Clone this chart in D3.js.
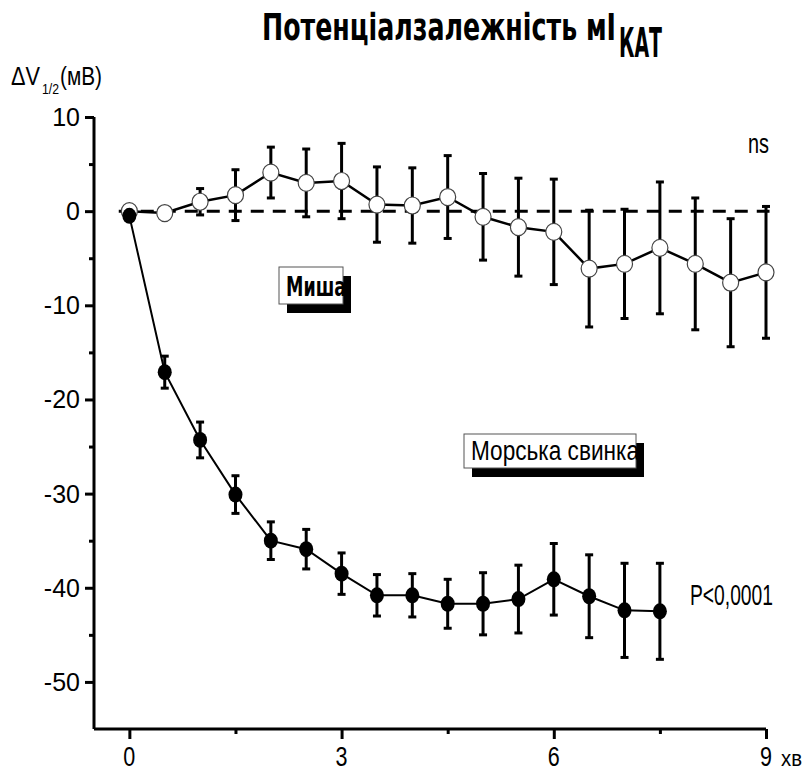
<!DOCTYPE html>
<html>
<head>
<meta charset="utf-8">
<script src="https://cdn.jsdelivr.net/npm/d3@7"></script>
<style>
  body { margin: 0; background: #fff; }
  text { font-family: "Liberation Sans", Arial, sans-serif; fill: #000; }
  text.heavy { font-family: "DejaVu Sans", sans-serif; font-weight: bold; }
</style>
</head>
<body>
<div class="canvas"></div>
<script>
// data (time in minutes, ΔV1/2 in mV, error = SEM)
const mouseTime = [0, 0.5, 1, 1.5, 2, 2.5, 3, 3.5, 4, 4.5, 5, 5.5, 6, 6.5, 7, 7.5, 8, 8.5, 9];
const mouseMean = [0, -0.2, 1.0, 1.7, 4.1, 3.0, 3.2, 0.7, 0.6, 1.5, -0.6, -1.7, -2.2, -6.1, -5.6, -3.9, -5.6, -7.6, -6.5];
const mouseErr = [0.2, 0.3, 1.4, 2.7, 2.7, 3.6, 4.0, 4.0, 4.0, 4.4, 4.6, 5.2, 5.6, 6.2, 5.8, 7.0, 7.0, 6.8, 7.0];

const pigTime = [0, 0.5, 1, 1.5, 2, 2.5, 3, 3.5, 4, 4.5, 5, 5.5, 6, 6.5, 7, 7.5];
const pigMean = [-0.5, -17.1, -24.3, -30.1, -35.0, -35.9, -38.5, -40.8, -40.8, -41.7, -41.7, -41.2, -39.1, -40.9, -42.4, -42.5];
const pigErr = [0.4, 1.7, 1.9, 2.0, 2.0, 2.1, 2.2, 2.2, 2.3, 2.6, 3.3, 3.6, 3.8, 4.4, 5.0, 5.1];

const xTicks = [0, 3, 6, 9];
const xMinorTicks = [1.5, 4.5, 7.5];
const yTicks = [10, 0, -10, -20, -30, -40, -50];
const yMinorTicks = [5, -5, -15, -25, -35, -45];

const width = 806;
const height = 771;
const margin = { top: 117, right: 40, bottom: 42, left: 94 };

const svg = d3
  .select(".canvas")
  .append("svg")
  .attr("width", width)
  .attr("height", height);

// scales
const x = d3.scaleLinear().domain([-0.5, 9]).range([margin.left, width - margin.right]);
const y = d3.scaleLinear().domain([-55, 10]).range([height - margin.bottom, margin.top]);

// squeeze text to a given width, the original fonts are very narrow
const squeeze = (sel, w) => sel.attr("textLength", w).attr("lengthAdjust", "spacingAndGlyphs");

// axes
const xAxisGroup = svg.append("g").attr("transform", `translate(0, ${y(-55)})`);
xAxisGroup.call(d3.axisBottom(x).tickValues(xTicks).tickSize(10).tickFormat(""));
const xMinor = svg.append("g").attr("transform", `translate(0, ${y(-55)})`);
xMinor.call(d3.axisBottom(x).tickValues(xMinorTicks).tickSize(5).tickFormat(""));

const yAxisGroup = svg.append("g").attr("transform", `translate(${x(-0.5)}, 0)`);
yAxisGroup.call(d3.axisLeft(y).tickValues(yTicks).tickSize(9).tickFormat(""));
const yMinor = svg.append("g").attr("transform", `translate(${x(-0.5)}, 0)`);
yMinor.call(d3.axisLeft(y).tickValues(yMinorTicks).tickSize(5).tickFormat(""));

svg.selectAll(".domain").attr("stroke", "#000").attr("stroke-width", 3);
svg.selectAll(".tick line").attr("stroke", "#000").attr("stroke-width", 3);
xMinor.select(".domain").remove();
yMinor.select(".domain").remove();
// the axes meet in the corner without end ticks
xAxisGroup.select(".domain").attr("d", `M${x(-0.5)},0H${x(9)}`);
yAxisGroup.select(".domain").attr("d", `M0,${y(10)}V${y(-55)}`);

// tick labels
svg.selectAll(".ylab")
  .data(yTicks)
  .enter()
  .append("text")
  .attr("x", x(-0.5) - 14)
  .attr("y", d => y(d) + 9)
  .attr("text-anchor", "end")
  .attr("font-size", 25)
  .text(d => d);

svg.selectAll(".xlab")
  .data(xTicks)
  .enter()
  .append("text")
  .attr("x", d => x(d))
  .attr("y", 766)
  .attr("text-anchor", "middle")
  .attr("font-size", 27)
  .each(function() { squeeze(d3.select(this), 12); })
  .text(d => d);

squeeze(svg.append("text").attr("x", 781).attr("y", 766).attr("font-size", 22).text("хв"), 21);

// y axis label
squeeze(svg.append("text").attr("x", 11).attr("y", 85).attr("font-size", 25).text("ΔV"), 29);
squeeze(svg.append("text").attr("x", 42).attr("y", 94).attr("font-size", 15).text("1/2"), 17);
squeeze(svg.append("text").attr("x", 60).attr("y", 85).attr("font-size", 25).text("(мВ)"), 42);

// title
squeeze(
  svg.append("text").attr("class", "heavy").attr("x", 262).attr("y", 40).attr("font-size", 37)
    .text("Потенціалзалежність мІ"),
  354
);
squeeze(
  svg.append("text").attr("class", "heavy").attr("x", 619).attr("y", 57).attr("font-size", 40)
    .text("КАТ"),
  43
);

// zero line
svg.append("line")
  .attr("x1", x(-0.15))
  .attr("x2", x(9.05))
  .attr("y1", y(0))
  .attr("y2", y(0))
  .attr("stroke", "#000")
  .attr("stroke-width", 3)
  .attr("stroke-dasharray", "13,9");

const mouse = mouseTime.map((t, i) => ({ t, v: mouseMean[i], e: mouseErr[i] }));
const pig = pigTime.map((t, i) => ({ t, v: pigMean[i], e: pigErr[i] }));

const line = d3.line().x(d => x(d.t)).y(d => y(d.v));

// error bars with caps
const drawErr = (data, cls) => {
  const g = svg.append("g").attr("class", cls);
  const bars = g.selectAll("g").data(data).enter().append("g");
  bars.append("line")
    .attr("x1", d => x(d.t)).attr("x2", d => x(d.t))
    .attr("y1", d => y(d.v + d.e)).attr("y2", d => y(d.v - d.e))
    .attr("stroke", "#000").attr("stroke-width", 3);
  [1, -1].forEach(s => {
    bars.append("line")
      .attr("x1", d => x(d.t) - 4).attr("x2", d => x(d.t) + 4)
      .attr("y1", d => y(d.v + s * d.e)).attr("y2", d => y(d.v + s * d.e))
      .attr("stroke", "#000").attr("stroke-width", 3);
  });
};

drawErr(pig, "pig-err");
drawErr(mouse, "mouse-err");

svg.append("path")
  .datum(pig)
  .attr("fill", "none")
  .attr("stroke", "#000")
  .attr("stroke-width", 2)
  .attr("d", line);

svg.append("path")
  .datum(mouse)
  .attr("fill", "none")
  .attr("stroke", "#000")
  .attr("stroke-width", 2.5)
  .attr("d", line);

// markers
svg.selectAll(".mouse-dot")
  .data(mouse)
  .enter()
  .append("ellipse")
  .attr("cx", d => x(d.t))
  .attr("cy", d => y(d.v))
  .attr("rx", 8)
  .attr("ry", 8.5)
  .attr("fill", "#fff")
  .attr("stroke", "#444")
  .attr("stroke-width", 1.2);

svg.selectAll(".pig-dot")
  .data(pig)
  .enter()
  .append("ellipse")
  .attr("cx", d => x(d.t))
  .attr("cy", d => y(d.v))
  .attr("rx", 7)
  .attr("ry", 8)
  .attr("fill", "#000");

// species labels with drop shadow boxes
const label = (bx, by, bw, bh, txt, tw, heavy) => {
  svg.append("rect").attr("x", bx + 8).attr("y", by + 9).attr("width", bw).attr("height", bh).attr("fill", "#000");
  svg.append("rect").attr("x", bx).attr("y", by).attr("width", bw).attr("height", bh)
    .attr("fill", "#fff").attr("stroke", "#555").attr("stroke-width", 1);
  squeeze(
    svg.append("text").attr("class", heavy ? "heavy" : null)
      .attr("x", bx + 7).attr("y", by + bh - 8).attr("font-size", 27).text(txt),
    tw
  );
};
label(279, 267, 64, 37, "Миша", 60, true);
label(464, 434, 172, 34, "Морська свинка", 168, false);

// significance notes
squeeze(svg.append("text").attr("x", 748).attr("y", 153).attr("font-size", 28).text("ns"), 21);
squeeze(svg.append("text").attr("x", 690).attr("y", 605).attr("font-size", 29).text("P<0,0001"), 83);
</script>
</body>
</html>
